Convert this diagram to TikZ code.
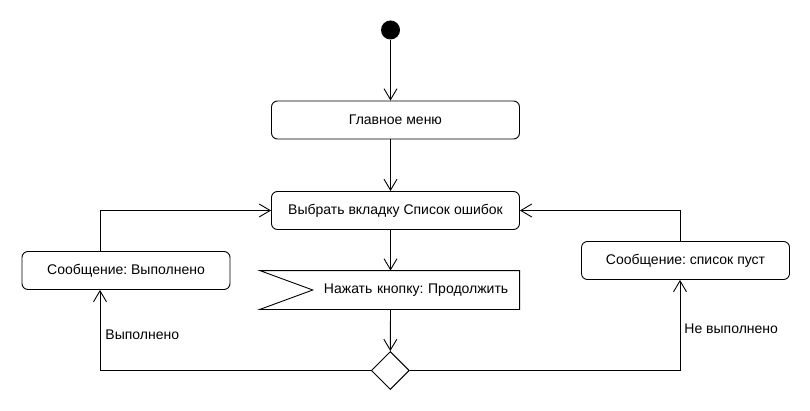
\documentclass[tikz,border=0pt]{standalone}
\usepackage{fontspec}
\setmainfont{Liberation Sans}
\usetikzlibrary{arrows.meta,shapes.geometric}
\frenchspacing

\begin{document}
\begin{tikzpicture}[
  x=1pt, y=1pt, line width=0.9pt,
  font=\fontsize{14}{16}\selectfont,
  action/.style={rectangle, draw, rounded corners=6pt, minimum width=248pt,
    minimum height=38pt, inner sep=0pt, align=center},
  msg/.style={action, minimum width=208pt},
  event/.style={rectangle, minimum width=259pt, minimum height=38pt,
    text width=237pt, inner xsep=11pt, inner ysep=0pt, align=right},
  start/.style={circle, fill=black, minimum size=19pt, inner sep=0pt},
  choice/.style={diamond, draw, minimum size=38pt, inner sep=0pt},
  arr/.style={-{Straight Barb[length=11pt,width=13pt]}}
]
  \useasboundingbox (0,0) rectangle (810,410);
  \node[start] (init) at (390.5,380) {};
  \node[action] (menu) at (395.5,290) {Главное меню};
  \node[action] (choose) at (395.5,199.5) {Выбрать вкладку Список ошибок};
  \node[event] (press) at (389.7,120) {Нажать кнопку: Продолжить};
  \draw (press.north west) -- (press.north east) -- (press.south east)
    -- (press.south west) -- ([xshift=53pt]press.west) -- cycle;
  \node[choice] (check) at (390.3,39.5) {};
  \node[msg] (done) at (126,139.5) {Сообщение: Выполнено};
  \node[msg] (empty) at (685.5,149.5) {Сообщение: список пуст};
  \draw[arr] (init) -- (init |- menu.north);
  \draw[arr] (init |- menu.south) -- (init |- choose.north);
  \draw[arr] (init |- choose.south) -- (init |- press.north);
  \draw[arr] (init |- press.south) -- (check.north);
  \draw[arr] (check.west) -| node[pos=0.72, right, inner sep=5pt] {Выполнено}
    ([xshift=-26pt]done.south);
  \draw[arr] ([xshift=-26pt]done.north) |- (choose.west);
  \draw[arr] (check.east) -| node[pos=0.73, right, inner sep=4pt] {Не выполнено}
    ([xshift=-5.5pt]empty.south);
  \draw[arr] ([xshift=-5.5pt]empty.north) |- (choose.east);
\end{tikzpicture}
\end{document}
